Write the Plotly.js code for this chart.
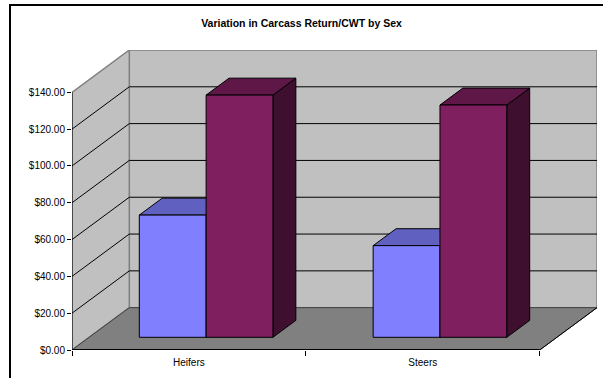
<!DOCTYPE html>
<html>
<head>
<meta charset="utf-8">
<script src="https://cdn.plot.ly/plotly-3.0.1.min.js"></script>
<style>
  html, body { margin: 0; padding: 0; background: #ffffff; overflow: hidden;
               width: 603px; height: 378px; }
  #frame { position: absolute; left: 9px; top: 4px; width: 700px; height: 500px;
           border-left: 2px solid #000000; border-top: 2px solid #000000; }
  #chart { position: absolute; left: 0; top: 0; width: 603px; height: 378px; }
</style>
</head>
<body>
<div id="frame"></div>
<div id="chart"></div>
<script>
// Carcass return per hundredweight, two series per sex
const categories = ['Heifers', 'Steers'];
const seriesA = [66.4, 49.8];
const seriesB = [131.6, 126.2];
const yTickVals = [0, 20, 40, 60, 80, 100, 120, 140];

// Oblique 3-D projection, expressed in axis units
const Y_MAX = 140;          // top of the walls
const DX = 0.245;           // depth shift along x (category units)
const DY = 23;              // depth shift along y (dollars)
const GAP_WIDTH = 1.5;      // gap between clusters, as a fraction of bar width
const BAR_W = 1 / (2 + GAP_WIDTH);
const F_FRONT = 0.3, F_BACK = 0.7;   // bar depth within the floor
const X_MAX = categories.length + DX;

const seriesList = [
  { values: seriesA, front: '#8080FF', top: '#6060C0', side: '#404080' },
  { values: seriesB, front: '#7F1F5F', top: '#5F1747', side: '#3F0F2F' }
];

function barFaces(s, si) {
  const fx = [], fy = [], tx = [], ty = [], sx = [], sy = [];
  s.values.forEach((v, ci) => {
    const xl = ci + 0.5 - BAR_W + si * BAR_W;
    const xr = xl + BAR_W;
    const x1 = F_FRONT * DX, y1 = F_FRONT * DY;
    const x2 = F_BACK * DX, y2 = F_BACK * DY;
    // front face
    fx.push(xl + x1, xr + x1, xr + x1, xl + x1, xl + x1, null);
    fy.push(y1, y1, y1 + v, y1 + v, y1, null);
    // top face
    tx.push(xl + x1, xr + x1, xr + x2, xl + x2, xl + x1, null);
    ty.push(y1 + v, y1 + v, y2 + v, y2 + v, y1 + v, null);
    // right side face
    sx.push(xr + x1, xr + x2, xr + x2, xr + x1, xr + x1, null);
    sy.push(y1, y2, y2 + v, y1 + v, y1, null);
  });
  const face = (x, y, color) => ({
    type: 'scatter', mode: 'lines', x: x, y: y,
    fill: 'toself', fillcolor: color,
    line: { color: '#000000', width: 1 },
    hoverinfo: 'skip', showlegend: false
  });
  return [face(sx, sy, s.side), face(tx, ty, s.top), face(fx, fy, s.front)];
}

const traces = [];
seriesList.forEach((s, si) => traces.push(...barFaces(s, si)));

// Walls, floor and gridlines
const shapes = [];
// back wall
shapes.push({ type: 'rect', layer: 'below', xref: 'x', yref: 'y',
  x0: DX, x1: X_MAX, y0: DY, y1: Y_MAX + DY,
  fillcolor: '#C0C0C0', line: { color: '#808080', width: 1.5 } });
// side wall
shapes.push({ type: 'path', layer: 'below', xref: 'x', yref: 'y',
  path: `M0,0 L${DX},${DY} L${DX},${Y_MAX + DY} L0,${Y_MAX} Z`,
  fillcolor: '#C0C0C0', line: { color: '#808080', width: 1.5 } });
// floor
shapes.push({ type: 'path', layer: 'below', xref: 'x', yref: 'y',
  path: `M0,0 L${categories.length},0 L${X_MAX},${DY} L${DX},${DY} Z`,
  fillcolor: '#808080', line: { color: '#404040', width: 1 } });
// gridlines across back and side walls
yTickVals.forEach(v => {
  if (v === 0 || v === Y_MAX) return;
  shapes.push({ type: 'line', layer: 'below', xref: 'x', yref: 'y',
    x0: DX, x1: X_MAX, y0: v + DY, y1: v + DY, line: { color: '#000000', width: 1 } });
  shapes.push({ type: 'line', layer: 'below', xref: 'x', yref: 'y',
    x0: 0, x1: DX, y0: v, y1: v + DY, line: { color: '#000000', width: 1 } });
});
// floor right edge and front edge
shapes.push({ type: 'line', layer: 'below', xref: 'x', yref: 'y',
  x0: categories.length, x1: X_MAX, y0: 0, y1: DY, line: { color: '#000000', width: 1 } });
shapes.push({ type: 'line', layer: 'above', xref: 'x', yref: 'y',
  x0: 0, x1: categories.length, y0: 0, y1: 0, line: { color: '#000000', width: 2 } });
// value axis line
shapes.push({ type: 'line', layer: 'above', xref: 'x', yref: 'y',
  x0: 0, x1: 0, y0: 0, y1: Y_MAX, line: { color: '#000000', width: 1 } });

const font = { family: 'Liberation Sans, Arial, sans-serif', size: 10, color: '#000000' };

const layout = {
  width: 603, height: 378,
  margin: { l: 72, r: 6, t: 50, b: 28, pad: 0 },
  paper_bgcolor: 'rgba(0,0,0,0)', plot_bgcolor: 'rgba(0,0,0,0)',
  font: font,
  showlegend: false,
  title: {
    text: '<b>Variation in Carcass Return/CWT by Sex</b>',
    font: { family: 'Liberation Sans, Arial, sans-serif', size: 10.5, color: '#000000' },
    xref: 'container', yref: 'container', x: 0.5, y: 0.937,
    xanchor: 'center', yanchor: 'middle'
  },
  xaxis: {
    range: [0, X_MAX], fixedrange: true,
    showgrid: false, zeroline: false, showline: false,
    tickmode: 'array',
    tickvals: categories.map((c, i) => i + 0.5),
    ticktext: categories,
    ticks: '', tickfont: font, ticklabelstandoff: 5,
    minor: { tickmode: 'array', tickvals: categories.map((c, i) => i).concat([categories.length]),
             ticks: 'outside', ticklen: 5, tickcolor: '#000000', tickwidth: 1, showgrid: false }
  },
  yaxis: {
    range: [0, Y_MAX + DY], fixedrange: true,
    showgrid: false, zeroline: false, showline: false,
    tickmode: 'array', tickvals: yTickVals,
    tickformat: '$.2f',
    ticks: 'outside', ticklen: 4, tickcolor: '#000000', tickwidth: 1,
    tickfont: font
  },
  shapes: shapes
};

Plotly.newPlot('chart', traces, layout, { displayModeBar: false, staticPlot: true });
</script>
</body>
</html>
